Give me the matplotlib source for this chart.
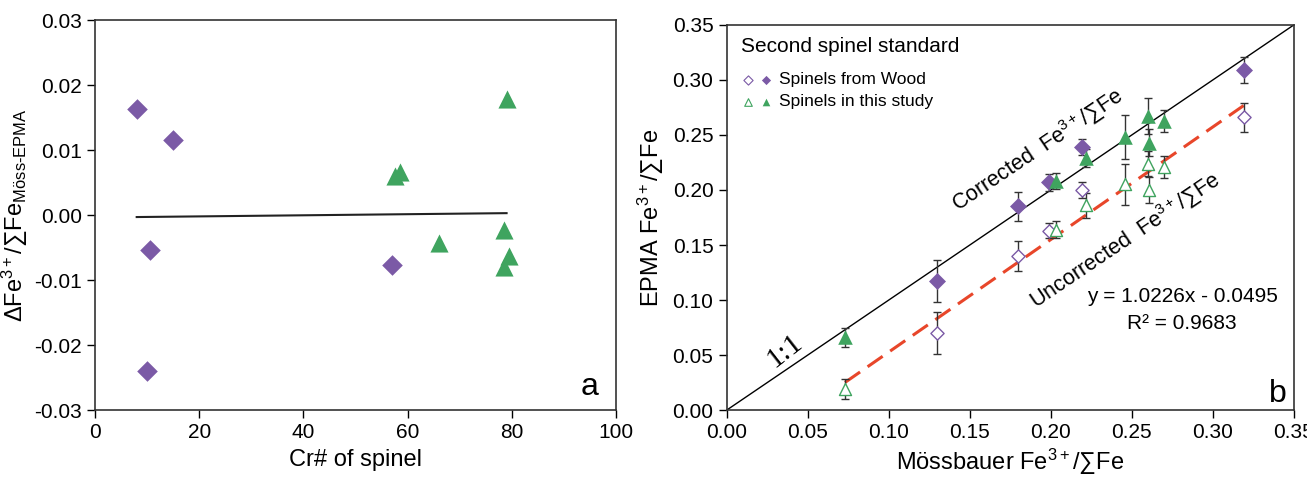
import numpy as np
import matplotlib
matplotlib.use('Agg')
import matplotlib.pyplot as plt

plt.rcParams['font.family'] = ['Liberation Sans', 'DejaVu Sans']
plt.rcParams['mathtext.fontset'] = 'custom'
plt.rcParams['mathtext.rm'] = 'Liberation Sans'
plt.rcParams['mathtext.it'] = 'Liberation Sans:italic'

PURPLE = '#7b5aa6'
GREEN = '#3fa45f'
RED = '#e8462a'

# ---- panel a: delta vs Cr#
wood_cr = [8, 15, 10.5, 10, 57]
wood_delta = [0.0163, 0.0116, -0.0053, -0.0240, -0.0076]
study_cr = [57.5, 58.5, 66, 79, 78.5, 79.5, 78.5]
study_delta = [0.0060, 0.0067, -0.0043, 0.0178, -0.0023, -0.0063, -0.0080]
trend_cr = [8, 79]
trend_delta = [-0.0003, 0.0003]

# ---- panel b: EPMA vs Mossbauer
wood_moss = [0.130, 0.180, 0.199, 0.219, 0.319]
wood_corr = [0.117, 0.185, 0.207, 0.239, 0.309]
wood_corr_err = [0.019, 0.013, 0.0075, 0.007, 0.012]
wood_unc = [0.070, 0.140, 0.163, 0.200, 0.266]
wood_unc_err = [0.019, 0.0135, 0.007, 0.007, 0.013]

study_moss = [0.073, 0.203, 0.222, 0.2455, 0.260, 0.2605, 0.270]
study_corr = [0.066, 0.208, 0.229, 0.248, 0.267, 0.243, 0.263]
study_corr_err = [0.009, 0.0075, 0.008, 0.020, 0.0165, 0.012, 0.010]
study_unc = [0.019, 0.164, 0.186, 0.205, 0.224, 0.200, 0.221]
study_unc_err = [0.009, 0.0075, 0.0115, 0.019, 0.011, 0.012, 0.010]

fit_slope, fit_icpt = 1.0226, -0.0495
fit_x = [0.073, 0.319]

fig = plt.figure(figsize=(13.07, 4.78), dpi=100)

# Panel a
ax1 = fig.add_axes([0.0727, 0.142, 0.3986, 0.816])
ax1.plot(trend_cr, trend_delta, color='#222222', lw=1.5)
ax1.scatter(wood_cr, wood_delta, marker='D', s=110, color=PURPLE, zorder=3, linewidths=0)
ax1.scatter(study_cr, study_delta, marker='^', s=170, color=GREEN, zorder=3, linewidths=0)
ax1.set_xlim(0, 100)
ax1.set_ylim(-0.03, 0.03)
ax1.set_xticks(np.arange(0, 101, 20))
ax1.set_yticks(np.arange(-0.03, 0.031, 0.01))
ax1.yaxis.set_major_formatter(plt.FormatStrFormatter('%.2f'))
ax1.set_xlabel('Cr# of spinel', fontsize=17, labelpad=5)
ax1.set_ylabel(r'$\Delta$Fe$^{3+}$/∑Fe$_{\mathrm{Möss\text{-}EPMA}}$', fontsize=17, labelpad=3)
ax1.text(95, -0.0265, 'a', fontsize=23, ha='center', va='center')

# Panel b
ax2 = fig.add_axes([0.556, 0.142, 0.434, 0.806])
ax2.plot([0, 0.35], [0, 0.35], color='black', lw=1.0)
fy = [fit_slope * v + fit_icpt for v in fit_x]
ax2.plot(fit_x, fy, color=RED, lw=2.2, ls=(0, (6, 3)))

eb = dict(fmt='none', ecolor='#333333', elinewidth=1.0, capsize=3, capthick=1.0, zorder=2)
ax2.errorbar(wood_moss, wood_corr, yerr=wood_corr_err, **eb)
ax2.errorbar(wood_moss, wood_unc, yerr=wood_unc_err, **eb)
ax2.errorbar(study_moss, study_corr, yerr=study_corr_err, **eb)
ax2.errorbar(study_moss, study_unc, yerr=study_unc_err, **eb)

ax2.scatter(wood_moss, wood_corr, marker='D', s=75, color=PURPLE, zorder=3, linewidths=0)
ax2.scatter(wood_moss, wood_unc, marker='D', s=45, facecolor='white', edgecolor=PURPLE, zorder=3, linewidths=1.0)
ax2.scatter(study_moss, study_corr, marker='^', s=110, color=GREEN, zorder=3, linewidths=0)
ax2.scatter(study_moss, study_unc, marker='^', s=75, facecolor='white', edgecolor=GREEN, zorder=3, linewidths=1.0)

ax2.set_xlim(0, 0.35)
ax2.set_ylim(0, 0.35)
ax2.set_xticks(np.arange(0, 0.351, 0.05))
ax2.set_yticks(np.arange(0, 0.351, 0.05))
ax2.xaxis.set_major_formatter(plt.FormatStrFormatter('%.2f'))
ax2.yaxis.set_major_formatter(plt.FormatStrFormatter('%.2f'))
ax2.set_xlabel(r'Mössbauer Fe$^{3+}$/∑Fe', fontsize=17, labelpad=3)
ax2.set_ylabel(r'EPMA Fe$^{3+}$/∑Fe', fontsize=17, labelpad=5)

ax2.text(0.009, 0.330, 'Second spinel standard', fontsize=15, va='center')
ax2.scatter([0.013], [0.300], marker='D', s=22, facecolor='white', edgecolor=PURPLE, linewidths=0.8)
ax2.scatter([0.024], [0.300], marker='D', s=22, color=PURPLE, linewidths=0)
ax2.text(0.032, 0.300, 'Spinels from Wood', fontsize=12.5, va='center')
ax2.scatter([0.013], [0.280], marker='^', s=30, facecolor='white', edgecolor=GREEN, linewidths=0.8)
ax2.scatter([0.024], [0.280], marker='^', s=30, color=GREEN, linewidths=0)
ax2.text(0.032, 0.280, 'Spinels in this study', fontsize=12.5, va='center')

ax2.text(0.192, 0.236, r'Corrected  Fe$^{3+}$/∑Fe', fontsize=15.5, rotation=34,
         ha='center', va='center', rotation_mode='anchor')
ax2.text(0.246, 0.154, r'Uncorrected  Fe$^{3+}$/∑Fe', fontsize=15.5, rotation=34,
         ha='center', va='center', rotation_mode='anchor')
ax2.text(0.036, 0.054, '1:1', fontsize=21, rotation=38, ha='center', va='center',
         family='Liberation Serif')
ax2.text(0.281, 0.103, 'y = 1.0226x - 0.0495', fontsize=15, ha='center', va='center')
ax2.text(0.281, 0.079, 'R² = 0.9683', fontsize=15, ha='center', va='center')
ax2.text(0.340, 0.015, 'b', fontsize=23, ha='center', va='center')

for ax in (ax1, ax2):
    ax.tick_params(direction='out', length=6, width=1, labelsize=15, top=False, right=False)
    for s in ax.spines.values():
        s.set_linewidth(1.2)
        s.set_color('#333333')

fig.savefig('out.png', dpi=100)
